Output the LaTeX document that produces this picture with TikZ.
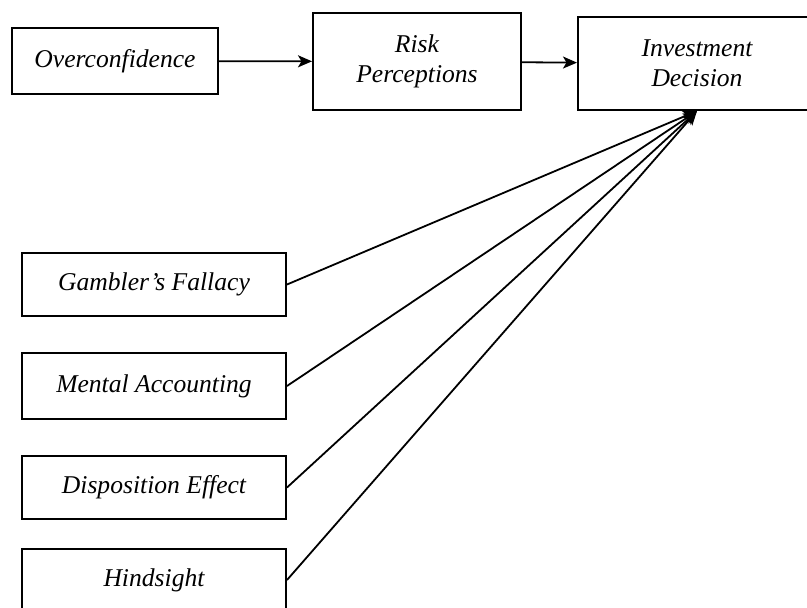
\documentclass[tikz,border=0pt]{standalone}
\usepackage{fontspec}
\setmainfont{Liberation Serif}
\usetikzlibrary{arrows.meta}

\tikzset{
  factor/.style={draw,line width=2pt,align=center,inner sep=0pt,
    font=\fontsize{25.6}{30}\selectfont\itshape},
  link/.style={line width=1.8pt,-{Stealth[length=14pt,width=12pt,inset=3.5pt]}}
}

\begin{document}
\begin{tikzpicture}[x=1pt,y=-1pt]
  \useasboundingbox (0,0) rectangle (807,608);
  \clip (0,0) rectangle (807,608);
  % top row
  \node[factor,minimum width=206pt,minimum height=66pt] (over) at (115,61) {Overconfidence};
  \node[factor,minimum width=208pt,minimum height=97pt] (risk) at (417,61.5) {Risk\\Perceptions};
  \node[factor,minimum width=238pt,minimum height=93pt] (inv) at (697,63.5) {Investment\\Decision};
  % biases on the left
  \node[factor,minimum width=264pt,minimum height=63pt] (gf) at (154,284.5) {Gambler’s Fallacy};
  \node[factor,minimum width=264pt,minimum height=66pt] (ma) at (154,386) {Mental Accounting};
  \node[factor,minimum width=264pt,minimum height=63pt] (de) at (154,487.5) {Disposition Effect};
  \node[factor,minimum width=264pt,minimum height=62pt] (hs) at (154,580) {Hindsight};
  % connectors
  \draw[link] (over) -- (risk);
  \draw[link] (risk) -- (inv);
  \foreach \b in {gf,ma,de,hs}
    \draw[link] (\b.east) -- (inv.south);
\end{tikzpicture}
\end{document}
